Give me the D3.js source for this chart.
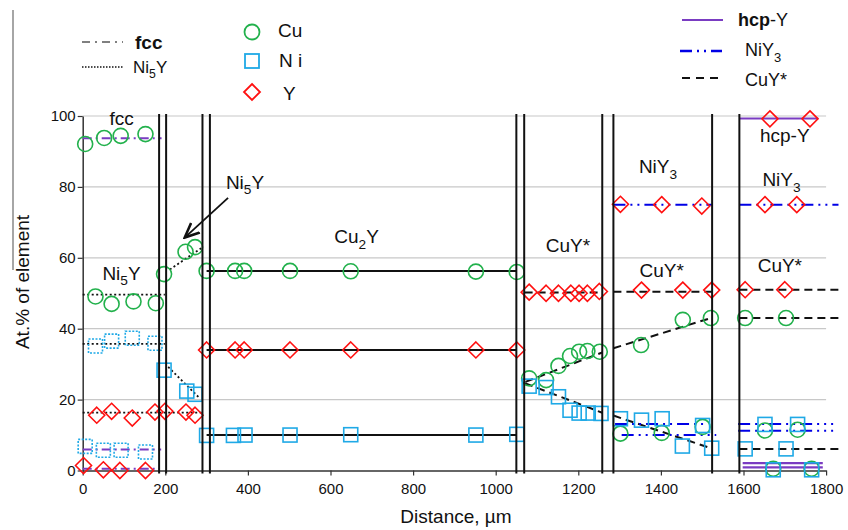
<!DOCTYPE html>
<html>
<head>
<meta charset="utf-8">
<script src="https://cdn.jsdelivr.net/npm/d3@7"></script>
<style>
  body { margin: 0; background: #fff; }
  text { font-family: "Liberation Sans", Arial, sans-serif; fill: #111; }
</style>
</head>
<body>
<div id="chart"></div>
<script>
// chart values
var xTicks = [0, 200, 400, 600, 800, 1000, 1200, 1400, 1600, 1800];
var yTicks = [0, 20, 40, 60, 80, 100];

// phase boundaries (distance, um)
var boundaries = [185, 202, 290, 308, 1050, 1069, 1258, 1285, 1524, 1590];

// Cu points [distance, at.%]
var cuPoints = [
  [6, 92.1], [52, 93.8], [92, 94.4], [152, 94.9],
  [31, 49.1], [70, 47.0], [123, 47.7], [177, 47.2],
  [197, 55.4], [249, 61.7], [272, 63.0],
  [300, 56.3], [369, 56.3], [391, 56.3], [502, 56.3], [649, 56.2], [952, 56.1], [1051, 56.0],
  [1081, 26.0], [1122, 25.5], [1152, 29.5], [1180, 32.3], [1202, 33.5], [1222, 33.7], [1252, 33.5],
  [1352, 35.4], [1453, 42.5], [1521, 43.0], [1302, 10.4], [1402, 10.6], [1501, 12.3],
  [1604, 43.0], [1703, 43.0], [1652, 11.3], [1731, 11.5], [1672, 0.5], [1765, 0.5]
];

// Ni points measured in the two-phase start region (drawn dotted)
var niDotted = [
  [6, 6.8], [50, 5.7], [93, 5.7], [152, 5.2],
  [31, 35.1], [70, 36.5], [120, 37.3], [175, 35.9]
];
var niPoints = [
  [197, 28.3], [252, 22.4], [272, 21.5],
  [300, 9.9], [365, 9.9], [393, 10.0], [502, 10.0], [649, 10.1], [952, 10.0], [1051, 10.2],
  [1081, 23.8], [1122, 23.4], [1152, 20.8], [1180, 17.0], [1202, 16.2], [1224, 16.2], [1255, 16.1],
  [1302, 14.6], [1353, 14.2], [1403, 14.6], [1452, 6.9], [1501, 12.7], [1523, 6.3],
  [1604, 6.1], [1652, 13.0], [1703, 6.1], [1731, 13.0], [1672, 0.2], [1765, 0.2]
];

var yPoints = [
  [2, 1.4], [50, 0.2], [90, 0], [152, 0],
  [34, 15.6], [70, 16.7], [120, 14.8], [175, 16.5], [199, 16.7], [250, 16.5], [272, 15.6],
  [300, 34], [369, 34], [391, 34], [502, 34], [649, 34], [952, 34], [1051, 34],
  [1081, 50.3], [1122, 50.0], [1152, 50.0], [1182, 50.0], [1202, 50.0], [1222, 50.0], [1251, 50.5],
  [1353, 50.9], [1453, 50.9], [1523, 50.9],
  [1302, 75.1], [1402, 75.0], [1499, 74.6], [1652, 75.0], [1729, 75.0],
  [1604, 51.0], [1700, 51.0],
  [1664, 99.2], [1761, 99.2]
];

// phase composition lines [x1, y1, x2, y2]
var fccLines = [[0, 93.7, 191, 93.7], [0, 5.9, 190, 5.9], [0, 0.5, 185, 0.5]];
var ni5yLines = [[0, 49.6, 199, 49.6], [0, 35.7, 199, 35.7], [0, 16.3, 288, 16.3],
  [211, 56.7, 288, 62.8], [207, 29.2, 284, 20.3]];
var cu2yLines = [[300, 56.3, 1051, 56.3], [300, 34, 1051, 34], [300, 10, 1051, 10]];
var cuyLines = [
  [1070, 50.2, 1258, 50.2], [1285, 50.4, 1524, 50.4], [1590, 51, 1830, 51],
  [1072, 25.0, 1258, 33.3], [1285, 34.5, 1521, 43.0], [1590, 43, 1830, 43],
  [1071, 24.6, 1258, 16.3], [1285, 15.5, 1521, 6.3], [1590, 6.1, 1830, 6.1]
];
var niy3Lines = [
  [1285, 75, 1524, 75], [1590, 75, 1830, 75],
  [1289, 13.1, 1504, 13.1], [1305, 10.0, 1534, 10.0],
  [1587, 13.1, 1817, 13.1], [1587, 11.2, 1817, 11.2]
];
var hcpLines = [[1591, 99.3, 1781, 99.3], [1598, 2.1, 1792, 2.1], [1598, 0.9, 1792, 0.9]];

// phase labels [x, y, parts]
var phaseLabels = [
  [94, 99.4, [["fcc"]]],
  [94, 55.7, [["Ni"], ["5", 1], ["Y"]]],
  [393, 81.4, [["Ni"], ["5", 1], ["Y"]]],
  [663, 66, [["Cu"], ["2", 1], ["Y"]]],
  [1175, 63.6, [["CuY*"]]],
  [1393, 85.7, [["NiY"], ["3", 1]]],
  [1402, 56.6, [["CuY*"]]],
  [1700, 94.6, [["hcp-Y"]]],
  [1692, 82, [["NiY"], ["3", 1]]],
  [1688, 58, [["CuY*"]]]
];
var arrow = [352, 76.9, 247, 65.7];

var svgWidth = 848;
var svgHeight = 530;

var svg = d3.select("#chart")
  .append("svg")
  .attr("width", svgWidth)
  .attr("height", svgHeight)
  .style("background", "#fff");

var x = d3.scaleLinear().domain([0, 1800]).range([82.7, 826.1]);
var y = d3.scaleLinear().domain([0, 100]).range([470.5, 116]);

var colors = { cu: "#22b14c", ni: "#1fa9e6", y: "#ff1010", purple: "#7a3cc2", blue: "#0000e6" };

svg.append("defs").append("marker")
  .attr("id", "arrowhead")
  .attr("viewBox", "0 0 10 10")
  .attr("refX", 9).attr("refY", 5)
  .attr("markerWidth", 9).attr("markerHeight", 9)
  .attr("orient", "auto")
  .append("path")
  .attr("d", "M0,1 L9,5 L0,9")
  .attr("fill", "none")
  .attr("stroke", "#111")
  .attr("stroke-width", 1.6);

// stray frame line at left edge
svg.append("line")
  .attr("x1", 13).attr("x2", 13).attr("y1", 10).attr("y2", 270)
  .attr("stroke", "#888").attr("stroke-width", 1.5);

// gridlines
svg.append("g")
  .selectAll("line")
  .data(yTicks.filter(d => d > 0))
  .enter()
  .append("line")
  .attr("x1", x(0)).attr("x2", x(1800))
  .attr("y1", d => y(d)).attr("y2", d => y(d))
  .attr("stroke", "#c8c8c8")
  .attr("stroke-width", 1.2);

// axes
var bottomAxis = d3.axisBottom(x).tickValues(xTicks).tickSize(5).tickSizeOuter(0).tickFormat(d3.format("d"));
var leftAxis = d3.axisLeft(y).tickValues(yTicks).tickSize(5).tickSizeOuter(0);

var xAxis = svg.append("g")
  .attr("transform", `translate(0, ${y(0)})`)
  .call(bottomAxis);
var yAxis = svg.append("g")
  .attr("transform", `translate(${x(0)}, 0)`)
  .call(leftAxis);

[xAxis, yAxis].forEach(function(ax) {
  ax.select(".domain").attr("stroke", "#333").attr("stroke-width", 1.5);
  ax.selectAll(".tick line").attr("stroke", "#333").attr("stroke-width", 1.2);
  ax.selectAll("text")
    .style("font-family", "Liberation Sans, Arial, sans-serif")
    .style("font-size", "15px")
    .attr("fill", "#111");
});
xAxis.selectAll("text").attr("dy", "1.05em");
yAxis.selectAll("text").attr("x", -7);

svg.append("text")
  .attr("x", 456).attr("y", 523)
  .attr("text-anchor", "middle")
  .style("font-size", "19px")
  .text("Distance, µm");

svg.append("text")
  .attr("transform", "rotate(-90)")
  .attr("x", -282).attr("y", 29)
  .attr("text-anchor", "middle")
  .style("font-size", "19px")
  .text("At.% of element");

// phase lines
function drawLines(data, stroke, width, dash) {
  svg.append("g")
    .selectAll("line")
    .data(data)
    .enter()
    .append("line")
    .attr("x1", d => x(d[0])).attr("y1", d => y(d[1]))
    .attr("x2", d => x(d[2])).attr("y2", d => y(d[3]))
    .attr("stroke", stroke)
    .attr("stroke-width", width)
    .attr("stroke-dasharray", dash);
}

drawLines(fccLines, colors.purple, 2, "9,4,2,4");
drawLines(ni5yLines, "#111", 1.8, "2,2.5");
drawLines(cu2yLines, "#111", 2, null);
drawLines(cuyLines, "#111", 2, "8,5");
drawLines(niy3Lines, colors.blue, 2, "12,5,2,5,2,5");
drawLines(hcpLines, colors.purple, 2.2, null);

// markers
svg.append("g")
  .selectAll("circle")
  .data(cuPoints)
  .enter()
  .append("circle")
  .attr("cx", d => x(d[0]))
  .attr("cy", d => y(d[1]))
  .attr("r", 7.5)
  .attr("fill", "none")
  .attr("stroke", colors.cu)
  .attr("stroke-width", 1.6);

function drawSquares(data, dash) {
  svg.append("g")
    .selectAll("rect")
    .data(data)
    .enter()
    .append("rect")
    .attr("x", d => x(d[0]) - 7)
    .attr("y", d => y(d[1]) - 7)
    .attr("width", 14)
    .attr("height", 14)
    .attr("fill", "none")
    .attr("stroke", colors.ni)
    .attr("stroke-width", 1.6)
    .attr("stroke-dasharray", dash);
}
drawSquares(niDotted, "2,1.5");
drawSquares(niPoints, null);

var diamond = "M0,-8L8,0L0,8L-8,0Z";
svg.append("g")
  .selectAll("path")
  .data(yPoints)
  .enter()
  .append("path")
  .attr("transform", d => `translate(${x(d[0])}, ${y(d[1])})`)
  .attr("d", diamond)
  .attr("fill", "none")
  .attr("stroke", colors.y)
  .attr("stroke-width", 1.6);

// phase boundaries
svg.append("g")
  .selectAll("line")
  .data(boundaries)
  .enter()
  .append("line")
  .attr("x1", d => x(d)).attr("x2", d => x(d))
  .attr("y1", y(100) - 2).attr("y2", y(0) + 3)
  .attr("stroke", "#111")
  .attr("stroke-width", 2);

// text with optional subscripts
function richText(g, px, py, parts, size, anchor) {
  var t = g.append("text")
    .attr("x", px).attr("y", py)
    .attr("text-anchor", anchor)
    .attr("dy", "0.35em")
    .style("font-size", size + "px");
  var shift = 0;
  parts.forEach(function(p) {
    var s = t.append("tspan").text(p[0]);
    if (p[1]) {
      s.style("font-size", (size * 0.72) + "px").attr("dy", size * 0.3);
      shift = size * 0.3;
    } else if (shift) {
      s.attr("dy", -shift);
      shift = 0;
    }
  });
  return t;
}

var labelG = svg.append("g");
phaseLabels.forEach(function(d) {
  richText(labelG, x(d[0]), y(d[1]), d[2], 19, "middle");
});

svg.append("line")
  .attr("x1", x(arrow[0])).attr("y1", y(arrow[1]))
  .attr("x2", x(arrow[2])).attr("y2", y(arrow[3]))
  .attr("stroke", "#111")
  .attr("stroke-width", 1.8)
  .attr("marker-end", "url(#arrowhead)");

// legends
var legend = svg.append("g");

legend.append("line").attr("x1", 82).attr("x2", 123).attr("y1", 42).attr("y2", 42)
  .attr("stroke", "#808080").attr("stroke-width", 2).attr("stroke-dasharray", "8,5,2,5");
richText(legend, 135, 42, [["fcc"]], 19, "start").style("font-weight", "bold");
legend.append("line").attr("x1", 82).attr("x2", 123).attr("y1", 67).attr("y2", 67)
  .attr("stroke", "#111").attr("stroke-width", 1.5).attr("stroke-dasharray", "1.5,1.5");
richText(legend, 133, 67, [["Ni"], ["5", 1], ["Y"]], 17, "start");

legend.append("circle").attr("cx", 252).attr("cy", 32).attr("r", 7.5)
  .attr("fill", "none").attr("stroke", colors.cu).attr("stroke-width", 1.8);
richText(legend, 278, 30, [["Cu"]], 19, "start");
legend.append("rect").attr("x", 245).attr("y", 54).attr("width", 14).attr("height", 14)
  .attr("fill", "none").attr("stroke", colors.ni).attr("stroke-width", 1.8);
richText(legend, 279, 60, [["N i"]], 19, "start");
legend.append("path").attr("transform", "translate(252, 92)").attr("d", diamond)
  .attr("fill", "none").attr("stroke", colors.y).attr("stroke-width", 1.8);
richText(legend, 283, 93, [["Y"]], 19, "start");

legend.append("line").attr("x1", 682).attr("x2", 723).attr("y1", 20).attr("y2", 20)
  .attr("stroke", colors.purple).attr("stroke-width", 2.2);
var hcp = richText(legend, 738, 20, [["hcp"], ["-Y"]], 18, "start");
hcp.select("tspan").style("font-weight", "bold");
legend.append("line").attr("x1", 680).attr("x2", 722).attr("y1", 51).attr("y2", 51)
  .attr("stroke", colors.blue).attr("stroke-width", 2.5).attr("stroke-dasharray", "12,5,2,5,2,5");
richText(legend, 745, 50, [["NiY"], ["3", 1]], 18, "start");
legend.append("line").attr("x1", 682).attr("x2", 722).attr("y1", 78).attr("y2", 78)
  .attr("stroke", "#111").attr("stroke-width", 2).attr("stroke-dasharray", "8,6");
richText(legend, 745, 80, [["CuY*"]], 18, "start");
</script>
</body>
</html>
